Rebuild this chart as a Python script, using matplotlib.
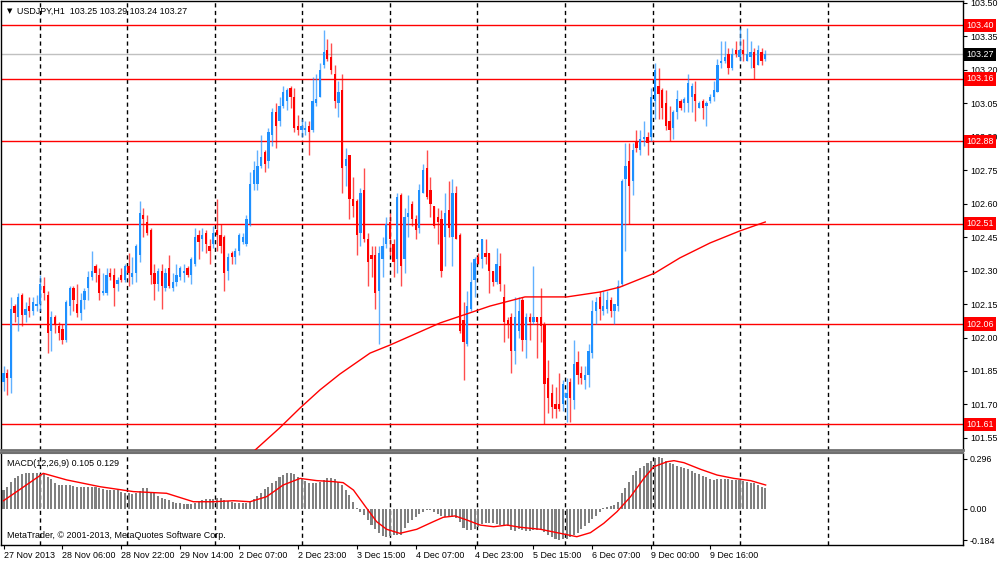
import numpy as np
import matplotlib.pyplot as plt

plt.rcParams['font.family'] = ['Liberation Sans', 'DejaVu Sans']
FS = 6.4

# USDJPY H1, 27 Nov 2013 14:00 .. 10 Dec 2013 (bar index 0..207)
opens = [
    101.80, 101.84, 101.82, 102.14, 102.09, 102.19, 102.10, 102.14, 102.12, 102.14,
    102.15, 102.23, 102.19, 102.03, 102.09, 102.05, 102.04, 101.99, 102.14, 102.22,
    102.15, 102.11, 102.17, 102.22, 102.27, 102.32, 102.28, 102.20, 102.20, 102.29,
    102.28, 102.24, 102.28, 102.26, 102.32,
    102.27, 102.29, 102.37, 102.55, 102.52, 102.48, 102.29, 102.24, 102.30, 102.22,
    102.31, 102.22, 102.25, 102.27, 102.29, 102.31, 102.28, 102.33, 102.46, 102.44,
    102.47, 102.41, 102.42, 102.48, 102.46, 102.45, 102.30, 102.38, 102.36, 102.39,
    102.43, 102.42, 102.51, 102.69, 102.69, 102.77, 102.83,
    102.79, 102.91, 103.01, 102.97, 103.04, 103.06, 103.12, 103.08, 102.95, 102.93,
    102.93, 102.95, 102.93, 103.05, 103.08, 103.22, 103.29, 103.26, 103.18, 103.05,
    103.11, 102.77, 102.82, 102.62, 102.61, 102.47, 102.66, 102.44, 102.37, 102.37,
    102.21, 102.35, 102.42, 102.52, 102.42,
    102.35, 102.64, 102.35, 102.54, 102.60, 102.53, 102.49, 102.65, 102.76, 102.66,
    102.59, 102.54, 102.53, 102.45, 102.57, 102.45, 102.65, 102.46, 102.08, 101.97,
    102.13, 102.26, 102.36, 102.35, 102.38, 102.38, 102.30, 102.25, 102.32, 102.18,
    102.08, 102.09, 101.94, 102.03, 102.17,
    101.99, 102.09, 102.07, 102.09, 102.09, 102.06, 101.82, 101.75, 101.70, 101.70,
    101.70, 101.73, 101.80, 101.72, 101.89, 101.84, 101.81, 101.83, 101.93, 102.12,
    102.18, 102.12, 102.13, 102.17, 102.12, 102.14, 102.24, 102.71, 102.79, 102.70,
    102.88, 102.84, 102.89, 102.90,
    102.90, 103.06, 103.13, 103.11, 103.05, 102.97, 102.94, 103.01, 103.06, 103.05,
    103.05, 103.08, 103.09, 103.03, 103.06, 103.04, 103.06, 103.08, 103.10, 103.23,
    103.24, 103.27, 103.21, 103.29, 103.26, 103.29, 103.24, 103.26, 103.28, 103.22,
    103.28, 103.25,
]
highs = [
    101.87, 101.86, 102.18, 102.15, 102.20, 102.20, 102.16, 102.18, 102.18, 102.19,
    102.28, 102.27, 102.21, 102.12, 102.10, 102.07, 102.06, 102.17, 102.23, 102.23,
    102.24, 102.20, 102.22, 102.30, 102.39, 102.33, 102.31, 102.29, 102.31, 102.31,
    102.31, 102.27, 102.31, 102.33, 102.38,
    102.36, 102.42, 102.61, 102.58, 102.55, 102.49, 102.33, 102.31, 102.33, 102.31,
    102.37, 102.29, 102.33, 102.32, 102.33, 102.32, 102.36, 102.49, 102.48, 102.49,
    102.48, 102.44, 102.50, 102.62, 102.51, 102.46, 102.38, 102.39, 102.40, 102.47,
    102.47, 102.55, 102.74, 102.79, 102.84, 102.91, 102.84,
    102.94, 103.03, 103.05, 103.08, 103.13, 103.12, 103.13, 103.12, 103.00, 102.98,
    102.97, 102.97, 103.17, 103.18, 103.23, 103.38, 103.34, 103.32, 103.22, 103.15,
    103.18, 102.85, 102.82, 102.72, 102.62, 102.67, 102.76, 102.47, 102.41, 102.41,
    102.41, 102.45, 102.54, 102.56, 102.44,
    102.65, 102.65, 102.58, 102.64, 102.61, 102.55, 102.69, 102.78, 102.84, 102.72,
    102.59, 102.58, 102.57, 102.65, 102.70, 102.71, 102.68, 102.47, 102.16, 102.21,
    102.34, 102.36, 102.38, 102.44, 102.44, 102.38, 102.30, 102.40, 102.38, 102.24,
    102.09, 102.11, 102.18, 102.18, 102.18,
    102.11, 102.11, 102.32, 102.09, 102.22, 102.07, 101.90, 101.79, 101.78, 101.84,
    101.81, 101.82, 101.82, 101.99, 101.94, 101.87, 101.87, 101.97, 102.17, 102.18,
    102.21, 102.21, 102.21, 102.18, 102.15, 102.26, 102.71, 102.87, 102.87, 102.87,
    102.93, 102.93, 102.97, 102.92,
    103.12, 103.23, 103.21, 103.12, 103.11, 103.04, 103.02, 103.11, 103.07, 103.08,
    103.18, 103.14, 103.15, 103.06, 103.07, 103.06, 103.09, 103.15, 103.25, 103.33,
    103.33, 103.30, 103.30, 103.33, 103.39, 103.34, 103.39, 103.33, 103.30, 103.31,
    103.30, 103.29,
]
lows = [
    101.76, 101.74, 101.75, 102.07, 102.03, 102.05, 102.07, 102.09, 102.10, 102.12,
    102.12, 102.17, 101.93, 101.94, 102.02, 101.99, 101.97, 101.98, 102.10, 102.12,
    102.09, 102.08, 102.13, 102.17, 102.26, 102.25, 102.17, 102.19, 102.19, 102.26,
    102.14, 102.21, 102.25, 102.25, 102.23,
    102.24, 102.25, 102.34, 102.45, 102.46, 102.24, 102.17, 102.21, 102.13, 102.21,
    102.22, 102.21, 102.23, 102.26, 102.25, 102.27, 102.24, 102.32, 102.35, 102.39,
    102.38, 102.33, 102.40, 102.39, 102.38, 102.21, 102.26, 102.33, 102.33, 102.37,
    102.42, 102.41, 102.50, 102.66, 102.66, 102.76, 102.74,
    102.76, 102.86, 102.85, 102.95, 103.03, 103.02, 103.03, 102.92, 102.91, 102.90,
    102.91, 102.82, 102.92, 103.04, 103.08, 103.21, 103.24, 103.18, 103.03, 102.99,
    102.65, 102.68, 102.53, 102.54, 102.37, 102.41, 102.43, 102.23, 102.27, 102.13,
    101.97, 102.27, 102.40, 102.37, 102.27,
    102.29, 102.23, 102.29, 102.45, 102.50, 102.44, 102.47, 102.65, 102.62, 102.54,
    102.49, 102.42, 102.27, 102.32, 102.45, 102.32, 102.44, 102.02, 101.81, 101.96,
    102.12, 102.18, 102.33, 102.31, 102.33, 102.20, 102.23, 102.24, 102.21, 101.98,
    102.00, 101.84, 101.88, 102.00, 101.94,
    101.91, 101.99, 102.06, 101.91, 101.98, 101.61, 101.66, 101.64, 101.64, 101.67,
    101.67, 101.62, 101.62, 101.68, 101.79, 101.79, 101.77, 101.78, 101.91, 102.06,
    102.08, 102.10, 102.11, 102.09, 102.06, 102.12, 102.23, 102.39, 102.51, 102.64,
    102.83, 102.82, 102.86, 102.82,
    102.88, 102.98, 102.98, 102.98, 102.93, 102.88, 102.89, 102.98, 103.02, 103.01,
    103.01, 103.01, 102.97, 103.03, 102.98, 102.95, 103.05, 103.06, 103.10, 103.21,
    103.23, 103.18, 103.20, 103.26, 103.24, 103.24, 103.24, 103.21, 103.16, 103.22,
    103.22, 103.24,
]
closes = [
    101.84, 101.82, 102.13, 102.11, 102.18, 102.10, 102.13, 102.12, 102.16, 102.15,
    102.24, 102.20, 102.02, 102.09, 102.06, 102.02, 101.99, 102.16, 102.22, 102.17,
    102.11, 102.17, 102.21, 102.27, 102.30, 102.29, 102.20, 102.21, 102.28, 102.27,
    102.22, 102.26, 102.26, 102.32, 102.29,
    102.29, 102.41, 102.56, 102.53, 102.47, 102.28, 102.24, 102.30, 102.23, 102.29,
    102.23, 102.25, 102.28, 102.31, 102.30, 102.28, 102.35, 102.45, 102.43, 102.46,
    102.42, 102.39, 102.47, 102.46, 102.41, 102.29, 102.36, 102.36, 102.39, 102.46,
    102.45, 102.53, 102.69, 102.75, 102.77, 102.81, 102.78,
    102.92, 103.01, 102.95, 103.04, 103.10, 103.11, 103.08, 102.94, 102.93, 102.95,
    102.94, 102.92, 103.06, 103.07, 103.20, 103.28, 103.25, 103.20, 103.06, 103.10,
    102.76, 102.80, 102.62, 102.59, 102.46, 102.65, 102.44, 102.34, 102.35, 102.20,
    102.38, 102.41, 102.51, 102.44, 102.34,
    102.63, 102.32, 102.54, 102.56, 102.53, 102.48, 102.66, 102.75, 102.63, 102.60,
    102.50, 102.52, 102.30, 102.56, 102.49, 102.65, 102.44, 102.03, 101.98, 102.14,
    102.25, 102.35, 102.33, 102.44, 102.36, 102.30, 102.25, 102.33, 102.24, 102.07,
    102.06, 101.94, 102.09, 102.12, 101.99,
    102.09, 102.07, 102.09, 102.07, 102.05, 101.79, 101.73, 101.69, 101.68, 101.68,
    101.79, 101.75, 101.73, 101.88, 101.83, 101.82, 101.83, 101.94, 102.12, 102.16,
    102.13, 102.14, 102.17, 102.12, 102.15, 102.23, 102.70, 102.77, 102.68, 102.84,
    102.85, 102.89, 102.90, 102.87,
    103.08, 103.20, 103.09, 103.03, 102.95, 102.93, 103.01, 103.07, 103.03, 103.07,
    103.14, 103.13, 103.06, 103.05, 103.03, 103.05, 103.08, 103.11, 103.22, 103.24,
    103.26, 103.21, 103.27, 103.27, 103.29, 103.27, 103.27, 103.28, 103.21, 103.29,
    103.24, 103.27,
]

# moving average (red curve), read at a few bars
ma_bar = [66, 75, 80.6, 86, 91.4, 99.6, 105, 118.6, 132.2, 141.7, 153.1, 162.1,
          167.5, 177, 183.8, 192, 200.1, 207]
ma_val = [101.46, 101.594, 101.684, 101.765, 101.836, 101.93, 101.966, 102.065,
          102.141, 102.182, 102.182, 102.204, 102.226, 102.289, 102.357, 102.424,
          102.478, 102.518]

# MACD(12,26,9) main (histogram)
macd_main = [
    0.112, 0.132, 0.162, 0.181, 0.195, 0.205, 0.211, 0.211, 0.211, 0.211,
    0.205, 0.205, 0.191, 0.176, 0.156, 0.142, 0.142, 0.142, 0.142, 0.136,
    0.128, 0.128, 0.128, 0.128, 0.128, 0.128, 0.122, 0.116, 0.112, 0.112,
    0.112, 0.112, 0.103, 0.097, 0.093, 0.089, 0.093, 0.108, 0.122, 0.122,
    0.103, 0.093, 0.077, 0.063, 0.057, 0.053, 0.043, 0.037, 0.034, 0.030,
    0.030, 0.030, 0.034, 0.043, 0.053, 0.057, 0.057, 0.057, 0.063, 0.063,
    0.053, 0.047, 0.039, 0.037, 0.037, 0.037, 0.037, 0.043, 0.057, 0.077,
    0.097, 0.116, 0.132, 0.156, 0.167, 0.187, 0.201, 0.211, 0.211, 0.205,
    0.187, 0.176, 0.168, 0.152, 0.152, 0.152, 0.162, 0.172, 0.181, 0.181,
    0.176, 0.162, 0.142, 0.112, 0.083, 0.043, 0.004, -0.016, -0.035, -0.065,
    -0.095, -0.120, -0.144, -0.160, -0.164, -0.160, -0.154, -0.154, -0.154,
    -0.114, -0.085, -0.065, -0.049, -0.030, -0.016, -0.006, -0.006, -0.016, -0.030,
    -0.041, -0.045, -0.045, -0.049, -0.055, -0.075, -0.114, -0.124, -0.124, -0.120,
    -0.108, -0.089, -0.085, -0.085, -0.085, -0.089, -0.095, -0.095, -0.101, -0.124,
    -0.128, -0.120, -0.124, -0.128, -0.128, -0.124, -0.124, -0.124, -0.134, -0.154,
    -0.168, -0.180, -0.183, -0.180, -0.176, -0.168, -0.154, -0.140, -0.120, -0.101,
    -0.081, -0.061, -0.041, -0.016, 0.004, 0.014, 0.018, 0.024, 0.043, 0.097,
    0.122, 0.162, 0.201, 0.227, 0.241, 0.254, 0.270, 0.286, 0.300, 0.306,
    0.300, 0.286, 0.274, 0.266, 0.254, 0.246, 0.241, 0.235, 0.227, 0.215,
    0.207, 0.195, 0.187, 0.176, 0.172, 0.176, 0.176, 0.176, 0.176, 0.172,
    0.172, 0.172, 0.168, 0.162, 0.156, 0.152, 0.142, 0.132, 0.122,
]
# MACD signal line, read at a few bars
sig_bar = [0, 10.8, 17.2, 26.2, 35.3, 44.3, 51.6, 57, 62.5, 67, 71.5, 76, 80.6,
           85.1, 89.6, 92.3, 95.1, 98.7, 101.4, 104.1, 107.7, 112.3, 116.8, 119.5,
           122.7, 125.9, 129.5, 133.2, 136.8, 140.4, 145.9, 150.4, 155.8, 159.5,
           163.1, 166.7, 170.4, 174, 176.7, 180.4, 182.2, 184.9, 189.4, 193.9,
           198.5, 203, 207.1]
sig_val = [0.049, 0.211, 0.172, 0.132, 0.103, 0.093, 0.043, 0.043, 0.049, 0.043,
           0.073, 0.142, 0.181, 0.168, 0.162, 0.156, 0.112, 0.004, -0.075, -0.120,
           -0.144, -0.120, -0.075, -0.049, -0.041, -0.065, -0.095, -0.105, -0.095,
           -0.108, -0.120, -0.140, -0.164, -0.140, -0.085, -0.016, 0.073, 0.181,
           0.250, 0.280, 0.286, 0.274, 0.235, 0.201, 0.181, 0.168, 0.142]

levels = [103.40, 103.16, 102.88, 102.51, 102.06, 101.61]
bid = 103.27
price_ticks = [103.50, 103.35, 103.20, 103.05, 102.90, 102.75, 102.60, 102.45,
               102.30, 102.15, 102.00, 101.85, 101.70, 101.55]
macd_ticks = [0.296, 0.0, -0.184]
macd_tick_labels = ['0.296', '0.00', '-0.184']
date_labels = ['27 Nov 2013', '28 Nov 06:00', '28 Nov 22:00', '29 Nov 14:00',
               '2 Dec 07:00', '2 Dec 23:00', '3 Dec 15:00', '4 Dec 07:00',
               '4 Dec 23:00', '5 Dec 15:00', '6 Dec 07:00', '9 Dec 00:00',
               '9 Dec 16:00']

O = np.array(opens)
H = np.array(highs)
L = np.array(lows)
C = np.array(closes)
H = np.maximum(H, np.maximum(O, C))
L = np.minimum(L, np.minimum(O, C))
idx = np.arange(len(C))

BLUE = '#1E90FF'
RED = '#FF0000'

fig = plt.figure(figsize=(10, 5.61), dpi=100)
ax = fig.add_axes([0.001, 111 / 561, 0.962, 449 / 561])
ax2 = fig.add_axes([0.001, 16 / 561, 0.962, 92 / 561])

xmin = -0.68
xmax = xmin + 962 / 3.68
grid_x = [9.9 + 23.78 * k for k in range(10)]

# price pane
for g in grid_x:
    ax.axvline(g, color='black', lw=1, ls=(0, (3, 2.5)), zorder=1)
for lv in levels:
    ax.axhline(lv, color=RED, lw=1, zorder=2)
ax.axhline(bid, color='#C0C0C0', lw=1, zorder=1.5)

up = C >= O
col = np.where(up, BLUE, RED)
ax.vlines(idx, L, H, colors=col, lw=1, alpha=0.7, zorder=3)
body_lo = np.minimum(O, C)
body_h = np.maximum(np.abs(C - O), 0.006)
ax.bar(idx, body_h, bottom=body_lo, width=0.62, color=col, lw=0, zorder=4)

ax.plot(ma_bar, ma_val, color=RED, lw=1, zorder=5)

ax.set_xlim(xmin, xmax)
ax.set_ylim(103.50 - 447 / 223, 103.50 + 2 / 223)
ax.set_xticks([])
ax.yaxis.tick_right()
ax.set_yticks(price_ticks)
ax.set_yticklabels([f'{t:.2f}' for t in price_ticks])
ax.tick_params(axis='y', direction='out', length=3, width=0.8, labelsize=FS, pad=2)
for s in ax.spines.values():
    s.set_color('black')
    s.set_linewidth(1)
ax.spines['bottom'].set_color('#707070')
ax.spines['bottom'].set_linewidth(2)

ytr = ax.get_yaxis_transform()
for lv in levels:
    ax.text(1.0035, lv, f'{lv:.2f}', transform=ytr, color='white', fontsize=FS,
            va='center', ha='left', clip_on=False, zorder=10,
            bbox=dict(boxstyle='square,pad=0.25', fc=RED, ec='none'))
ax.text(1.0035, bid, f'{bid:.2f}', transform=ytr, color='white', fontsize=FS,
        va='center', ha='left', clip_on=False, zorder=10,
        bbox=dict(boxstyle='square,pad=0.25', fc='black', ec='none'))

ax.text(0.006, 0.985, '\u25bc', transform=ax.transAxes, fontsize=5,
        va='top', ha='left', family='DejaVu Sans')
ax.text(0.017, 0.988, 'USDJPY,H1  103.25 103.29 103.24 103.27', transform=ax.transAxes,
        fontsize=FS, va='top', ha='left')

# MACD pane
for g in grid_x:
    ax2.axvline(g, color='black', lw=1, ls=(0, (3, 2.5)), zorder=1)
ax2.bar(idx, macd_main, width=0.55, color='#808080', lw=0, zorder=2)
ax2.plot(sig_bar, sig_val, color=RED, lw=1, zorder=3)
ax2.set_xlim(xmin, xmax)
ax2.set_ylim(-36 / 169, 56 / 169)
ax2.yaxis.tick_right()
ax2.set_yticks(macd_ticks)
ax2.set_yticklabels(macd_tick_labels)
ax2.tick_params(axis='y', direction='out', length=3, width=0.8, labelsize=FS, pad=2)
ax2.set_xticks([16 * k for k in range(len(date_labels))])
ax2.set_xticklabels(date_labels, ha='left')
ax2.tick_params(axis='x', direction='out', length=3, width=0.8, labelsize=FS, pad=1)
for s in ax2.spines.values():
    s.set_color('black')
    s.set_linewidth(1)
ax2.spines['top'].set_color('#707070')
ax2.spines['top'].set_linewidth(1.5)

ax2.text(0.006, 0.93, 'MACD(12,26,9) 0.105 0.129', transform=ax2.transAxes,
         fontsize=FS, va='top', ha='left')
ax2.text(0.006, 0.05, 'MetaTrader, \u00a9 2001-2013, MetaQuotes Software Corp.',
         transform=ax2.transAxes, fontsize=FS, va='bottom', ha='left')

fig.savefig('out.png', dpi=100, facecolor='white')
